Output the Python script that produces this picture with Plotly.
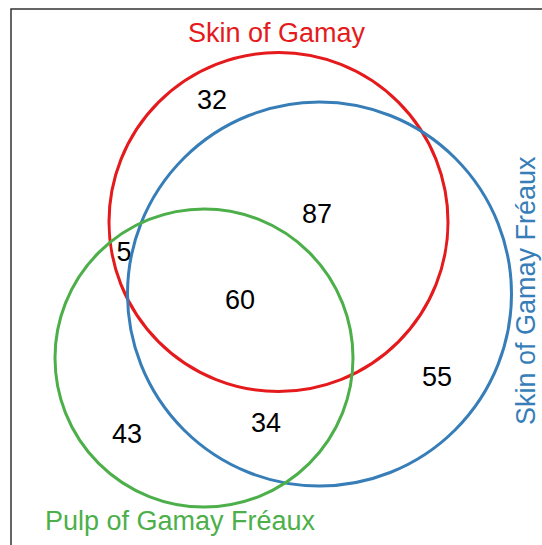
import plotly.graph_objects as go

# sets of the Venn diagram
set_names = ["Skin of Gamay", "Skin of Gamay Fréaux", "Pulp of Gamay Fréaux"]
set_colors = ["#E41A1C", "#377EB8", "#4DAF4A"]

# region counts
region_names = ["Skin of Gamay only", "Skin of Gamay & Skin of Gamay Fréaux",
                "Skin of Gamay & Pulp of Gamay Fréaux", "all three",
                "Skin of Gamay Fréaux only", "Pulp of Gamay Fréaux only",
                "Skin of Gamay Fréaux & Pulp of Gamay Fréaux"]
region_counts = [32, 87, 5, 60, 55, 43, 34]

# drawing layout (pixel space, y down)
circle_cx = [278.5, 319.5, 204]
circle_cy = [222, 294, 358]
circle_r = [169.5, 192, 149]
count_x = [212, 317, 124, 240, 437, 127, 266]
count_y = [102, 216, 254, 302, 379, 436, 425]

W, H = 542, 545
FONT = "Arial, Liberation Sans, sans-serif"


def main():
    fig = go.Figure()
    fig.add_trace(go.Scatter(
        x=count_x, y=count_y, mode="text",
        text=[str(v) for v in region_counts],
        hovertext=region_names,
        textfont=dict(family=FONT, size=27, color="black"),
        showlegend=False,
    ))
    shapes = []
    for cx, cy, r, col in zip(circle_cx, circle_cy, circle_r, set_colors):
        shapes.append(dict(type="circle", xref="x", yref="y",
                           x0=cx - r, x1=cx + r, y0=cy - r, y1=cy + r,
                           line=dict(color=col, width=3)))
    # frame
    shapes.append(dict(type="rect", xref="x", yref="y",
                       x0=11, y0=9, x1=W + 50, y1=H + 50,
                       line=dict(color="#333333", width=1.5)))

    annotations = [
        dict(x=277, y=33, text=set_names[0], textangle=0,
             font=dict(color=set_colors[0], size=27)),
        dict(x=526, y=291, text=set_names[1], textangle=-90,
             font=dict(color=set_colors[1], size=27)),
        dict(x=180, y=521, text=set_names[2], textangle=0,
             font=dict(color=set_colors[2], size=27)),
    ]
    for a in annotations:
        a.update(xref="x", yref="y", showarrow=False,
                 xanchor="center", yanchor="middle")
        a["font"].update(family=FONT)

    fig.update_layout(
        width=W, height=H,
        margin=dict(l=0, r=0, t=0, b=0),
        plot_bgcolor="white", paper_bgcolor="white",
        shapes=shapes, annotations=annotations,
        xaxis=dict(range=[0, W], visible=False, fixedrange=True),
        yaxis=dict(range=[H, 0], visible=False, fixedrange=True),
    )
    # drop the default page margin so the figure sits at the window corner
    fig.write_html("out.html",
                   config={"displayModeBar": False},
                   post_script="document.body.style.margin='0';"
                               "document.body.style.overflow='hidden';")


if __name__ == '__main__':
    main()
